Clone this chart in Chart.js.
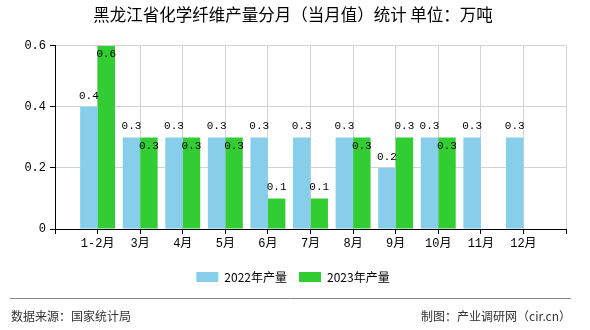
<!DOCTYPE html>
<html>
<head>
<meta charset="utf-8">
<script src="https://cdn.jsdelivr.net/npm/chart.js@4"></script>
<style>
  html, body { margin: 0; padding: 0; background: #fff; }
  #wrap { width: 590px; height: 330px; position: relative; }
</style>
</head>
<body>
<div id="wrap"><canvas id="myChart" width="590" height="330"></canvas></div>
<script>
// months along the x-axis
let months = ['1-2月','3月','4月','5月','6月','7月','8月','9月','10月','11月','12月'];
// monthly output, 10k tonnes
let output2022 = [0.4,0.3,0.3,0.3,0.3,0.3,0.3,0.2,0.3,0.3,0.3];
let output2023 = [0.6,0.3,0.3,0.3,0.1,0.1,0.3,0.3,0.3,null,null];
let yTicks = [0, 0.2, 0.4, 0.6];

const monoFont = "'Liberation Mono', 'Noto Sans CJK SC', monospace";
const cjkFont = "'Noto Sans CJK SC', sans-serif";

// empty slot at each end so the months sit on the grid lines
let labels = [''].concat(months, ['']);
let pad = arr => [null].concat(arr, [null]);

// value labels above bars; 2023 label goes inside when it would collide
const valueLabels = {
  id: 'valueLabels',
  afterDatasetsDraw(chart) {
    const ctx = chart.ctx;
    const area = chart.chartArea;
    ctx.save();
    ctx.font = "11px " + monoFont;
    ctx.fillStyle = '#000';
    ctx.textAlign = 'center';
    chart.data.datasets.forEach((ds, di) => {
      const meta = chart.getDatasetMeta(di);
      meta.data.forEach((bar, i) => {
        const v = ds.data[i];
        if (v === null || v === undefined) return;
        const other = chart.data.datasets[1 - di].data[i];
        let inside = false;
        if (di === 1 && other !== null && Math.abs(other - v) < 1e-9) inside = true;
        if (bar.y - 16 < area.top) inside = true;
        if (inside) {
          ctx.textBaseline = 'top';
          ctx.fillText(v.toFixed(1), bar.x, bar.y + 3);
        } else {
          ctx.textBaseline = 'alphabetic';
          ctx.fillText(v.toFixed(1), bar.x, bar.y - 8);
        }
      });
    });
    ctx.restore();
  }
};

// source line at the bottom
const footer = {
  id: 'footer',
  afterDraw(chart) {
    const ctx = chart.ctx;
    ctx.save();
    ctx.strokeStyle = '#888';
    ctx.lineWidth = 1;
    ctx.beginPath();
    ctx.moveTo(10, 298.5);
    ctx.lineTo(571, 298.5);
    ctx.stroke();
    ctx.font = "12px " + cjkFont;
    ctx.fillStyle = '#333';
    ctx.textBaseline = 'middle';
    ctx.textAlign = 'left';
    ctx.fillText('数据来源：国家统计局', 11, 316);
    ctx.textAlign = 'right';
    ctx.fillText('制图：产业调研网（cir.cn）', 571, 316);
    ctx.restore();
  }
};

function renderChart(){
  let ctx = document.getElementById('myChart');
  new Chart(ctx, {
    type: 'bar',
    data: {
      labels: labels,
      datasets: [
        {
          label: '2022年产量',
          data: pad(output2022),
          backgroundColor: '#87CEEB',
          categoryPercentage: 0.82,
          barPercentage: 1.0
        },
        {
          label: '2023年产量',
          data: pad(output2023),
          backgroundColor: '#32CD32',
          categoryPercentage: 0.82,
          barPercentage: 1.0
        }
      ]
    },
    options: {
      responsive: false,
      animation: false,
      layout: { padding: { left: 20, right: 24, top: 0, bottom: 37 } },
      plugins: {
        title: {
          display: true,
          text: '黑龙江省化学纤维产量分月（当月值）统计 单位：万吨',
          color: '#000',
          font: { family: cjkFont, size: 16.5, weight: 'normal' },
          padding: { top: 5, bottom: 21 }
        },
        legend: {
          position: 'bottom',
          labels: {
            boxWidth: 22,
            boxHeight: 10,
            color: '#000',
            padding: 12,
            font: { family: cjkFont, size: 12 }
          }
        },
        tooltip: { enabled: false }
      },
      scales: {
        x: {
          offset: false,
          grid: { color: '#d3d3d3', tickColor: '#000', tickLength: 5, offset: false },
          border: { color: '#000' },
          ticks: {
            color: '#000',
            font: { family: monoFont, size: 12 },
            maxRotation: 0,
            autoSkip: false,
            padding: 3
          },
          afterFit: s => { s.height = 30; }
        },
        y: {
          min: 0,
          max: 0.6,
          afterBuildTicks: s => { s.ticks = yTicks.map(v => ({ value: v })); },
          grid: { color: '#d3d3d3', tickColor: '#000', tickLength: 5 },
          border: { color: '#000' },
          ticks: {
            color: '#000',
            font: { family: monoFont, size: 12 },
            padding: 4,
            callback: v => v === 0 ? '0' : v.toFixed(1)
          },
          afterFit: s => { s.width = 35; }
        }
      }
    },
    plugins: [valueLabels, footer]
  });
}

renderChart();
</script>
</body>
</html>
